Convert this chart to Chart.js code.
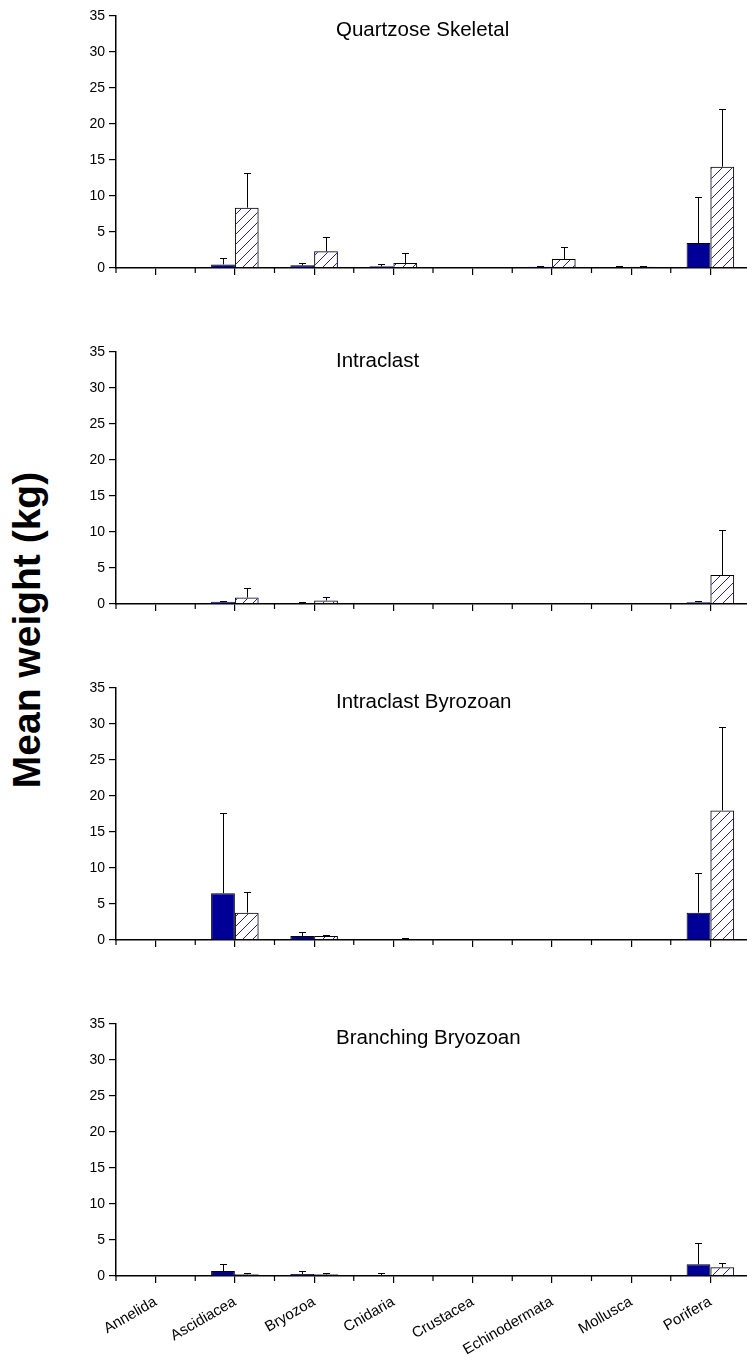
<!DOCTYPE html>
<html>
<head>
<meta charset="utf-8">
<script src="https://cdn.jsdelivr.net/npm/chart.js@4.4.0/dist/chart.umd.min.js"></script>
<style>
html, body { margin: 0; padding: 0; background: #fff; }
#wrap { position: relative; width: 747px; height: 1360px; overflow: hidden; background: #fff; }
.panel { position: absolute; left: 0; }
#ylabel {
    position: absolute; left: 27px; top: 630px;
    transform: translate(-50%, -50%) rotate(-90deg);
    font: bold 39px "Liberation Sans", Arial, sans-serif;
    white-space: nowrap; color: #000;
}
</style>
</head>
<body>
<div id="wrap">
    <div id="ylabel">Mean weight (kg)</div>
</div>
<script>
// 데이터
const categories = ["Annelida", "Ascidiacea", "Bryozoa", "Cnidaria", "Crustacea", "Echinodermata", "Mollusca", "Porifera"];
const panelTitles = ["Quartzose Skeletal", "Intraclast", "Intraclast Byrozoan", "Branching Bryozoan"];
const yMin = 0, yMax = 35, yStep = 5;

// Quartzose Skeletal
const qsSolid    = [0.03, 0.5, 0.37, 0.23, 0.02, 0.18, 0.1, 3.47];
const qsSolidSd  = [0, 0.94, 0.33, 0.27, 0, 0.1, 0.18, 6.43];
const qsHatch    = [0.03, 8.38, 2.31, 0.7, 0.02, 1.25, 0.18, 14.07];
const qsHatchSd  = [0, 4.77, 1.99, 1.43, 0, 1.71, 0.14, 8.06];
// Intraclast
const inSolid    = [0.02, 0.3, 0.15, 0.03, 0.02, 0.02, 0.02, 0.25];
const inSolidSd  = [0, 0.15, 0.1, 0, 0, 0, 0, 0.1];
const inHatch    = [0.02, 0.9, 0.5, 0.03, 0.02, 0.02, 0.03, 4.03];
const inHatchSd  = [0, 1.3, 0.5, 0, 0, 0, 0, 6.2];
// Intraclast Byrozoan
const ibSolid    = [0.03, 6.5, 0.55, 0.08, 0.02, 0.02, 0.02, 3.8];
const ibSolidSd  = [0, 11.2, 0.6, 0.05, 0, 0, 0, 5.5];
const ibHatch    = [0.02, 3.8, 0.55, 0.15, 0.02, 0.02, 0.02, 18.0];
const ibHatchSd  = [0, 2.9, 0.15, 0.1, 0, 0, 0, 11.6];
// Branching Bryozoan
const bbSolid    = [0, 0.7, 0.28, 0.1, 0, 0.04, 0, 1.62];
const bbSolidSd  = [0, 0.92, 0.46, 0.27, 0, 0, 0, 2.96];
const bbHatch    = [0, 0.23, 0.23, 0.03, 0.03, 0.05, 0.03, 1.2];
const bbHatchSd  = [0, 0.14, 0.14, 0, 0, 0, 0, 0.56];

const panelSeries = [
    [qsSolid, qsSolidSd, qsHatch, qsHatchSd],
    [inSolid, inSolidSd, inHatch, inHatchSd],
    [ibSolid, ibSolidSd, ibHatch, ibHatchSd],
    [bbSolid, bbSolidSd, bbHatch, bbHatchSd]
];

// 배치
const FONT = '"Liberation Sans", Arial, sans-serif';
const panelGap = 336;
const plotTop = 16, plotHeight = 252;
const titleBaseline = [20.3, 15.3, 20, 20];

/**
 * 빗금 패턴 (파란 대각선)
 */
function makeHatch() {
    const c = document.createElement("canvas");
    c.width = 10; c.height = 10;
    const g = c.getContext("2d");
    g.fillStyle = "#1c1ce6";
    for (let i = 0; i < 10; i++) {
        g.fillRect(i, 9 - i, 1, 1);
    }
    return g.createPattern(c, "repeat");
}
const hatch = makeHatch();

// 오차 막대
const errorBars = {
    id: "errorBars",
    afterDatasetsDraw(chart) {
        const ctx = chart.ctx;
        const ys = chart.scales.y;
        chart.data.datasets.forEach((ds, i) => {
            const meta = chart.getDatasetMeta(i);
            meta.data.forEach((bar, j) => {
                const sd = ds.sd[j];
                if (!sd) return;
                const x = Math.round(bar.x) + 0.5;
                const top = Math.round(ys.getPixelForValue(ds.data[j] + sd)) + 0.5;
                ctx.save();
                ctx.strokeStyle = "#000";
                ctx.lineWidth = 1;
                ctx.beginPath();
                ctx.moveTo(x, bar.y);
                ctx.lineTo(x, top);
                ctx.moveTo(x - 3.5, top);
                ctx.lineTo(x + 3.5, top);
                ctx.stroke();
                ctx.restore();
            });
        });
    }
};

// 범주 경계 눈금 + 패널 제목
const panelDeco = {
    id: "panelDeco",
    afterDraw(chart, args, opts) {
        const ctx = chart.ctx;
        const xs = chart.scales.x;
        const bottom = chart.chartArea.bottom;
        ctx.save();
        ctx.strokeStyle = "#000";
        ctx.lineWidth = 1.2;
        ctx.beginPath();
        for (let i = 0; i <= categories.length; i++) {
            const px = xs.getPixelForValue(i - 0.5);
            ctx.moveTo(px, bottom);
            ctx.lineTo(px, bottom + 5);
        }
        ctx.stroke();
        ctx.fillStyle = "#000";
        ctx.font = "20.5px " + FONT;
        ctx.textAlign = "left";
        ctx.textBaseline = "alphabetic";
        ctx.fillText(opts.title, 336, chart.chartArea.top + opts.titleY);
        ctx.restore();
    }
};

const wrap = document.getElementById("wrap");

for (let k = 0; k < panelTitles.length; k++) {
    const last = k === panelTitles.length - 1;
    const h = last ? 1360 - panelGap * k : panelGap;
    const canvas = document.createElement("canvas");
    canvas.className = "panel";
    canvas.width = 760;
    canvas.height = h;
    canvas.style.top = (panelGap * k) + "px";
    canvas.style.width = "760px";
    canvas.style.height = h + "px";
    wrap.appendChild(canvas);

    const s = panelSeries[k];
    new Chart(canvas.getContext("2d"), {
        type: "bar",
        data: {
            labels: categories,
            datasets: [
                { data: s[0], sd: s[1], backgroundColor: "#000096", borderColor: "#000", borderWidth: 1 },
                { data: s[2], sd: s[3], backgroundColor: hatch, borderColor: "#000", borderWidth: 1 }
            ]
        },
        options: {
            responsive: false,
            animation: false,
            devicePixelRatio: 1,
            categoryPercentage: 0.6,
            barPercentage: 1.0,
            layout: { padding: { top: plotTop, right: 10, left: 0, bottom: 0 } },
            plugins: {
                legend: { display: false },
                tooltip: { enabled: false },
                panelDeco: { title: panelTitles[k], titleY: titleBaseline[k] }
            },
            scales: {
                x: {
                    offset: true,
                    grid: { offset: false, drawOnChartArea: false, drawTicks: true, tickLength: 7, color: "#000", lineWidth: 1.2 },
                    border: { display: true, color: "#000", width: 1.5 },
                    ticks: {
                        display: last,
                        color: "#000",
                        font: { family: FONT, size: 15 },
                        minRotation: 30, maxRotation: 30,
                        padding: 10,
                        autoSkip: false
                    },
                    afterFit(scale) { scale.height = h - plotTop - plotHeight; }
                },
                y: {
                    min: yMin, max: yMax,
                    grid: { drawOnChartArea: false, drawTicks: true, tickLength: 7, color: "#000", lineWidth: 1.2 },
                    border: { display: true, color: "#000", width: 1.5 },
                    ticks: { stepSize: yStep, color: "#000", font: { family: FONT, size: 14 }, padding: 4 },
                    afterFit(scale) { scale.width = 116; }
                }
            }
        },
        plugins: [errorBars, panelDeco]
    });
}
</script>
</body>
</html>
